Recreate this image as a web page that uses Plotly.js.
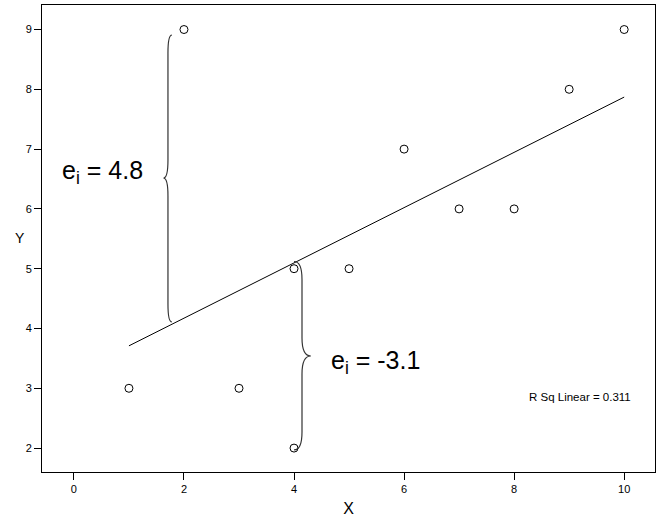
<!DOCTYPE html>
<html>
<head>
<meta charset="utf-8">
<script src="https://cdn.plot.ly/plotly-3.0.1.min.js"></script>
<style>html,body{margin:0;padding:0;background:#fff;}#chart{width:671px;height:525px;}</style>
</head>
<body>
<div id="chart"></div>
<script>
// Observed data points
const xValues = [1, 2, 3, 4, 4, 5, 6, 7, 8, 9, 10];
const yValues = [3, 9, 3, 5, 2, 5, 7, 6, 6, 8, 9];
const fitX = [1, 10];
const fitY = [3.71, 7.87];
// Tick labels
const xTicks = [0, 2, 4, 6, 8, 10];
const yTicks = [2, 3, 4, 5, 6, 7, 8, 9];
// Annotation texts
const residualLabels = ["e<sub>i</sub> = 4.8", "e<sub>i</sub> = -3.1"];
const rsqLabel = "R Sq Linear = 0.311";

function brace(x0, ytop, ybot, ymid, dx, dt, r) {
  return "M " + (x0 + dx) + "," + ytop +
    " Q " + x0 + "," + ytop + " " + x0 + "," + (ytop - r) +
    " L " + x0 + "," + (ymid + r) +
    " Q " + x0 + "," + ymid + " " + (x0 + dt) + "," + ymid +
    " Q " + x0 + "," + ymid + " " + x0 + "," + (ymid - r) +
    " L " + x0 + "," + (ybot + r) +
    " Q " + x0 + "," + ybot + " " + (x0 + dx) + "," + ybot;
}

const font = "Arial, 'Liberation Sans', sans-serif";

const traces = [
  {
    x: fitX, y: fitY, mode: "lines", type: "scatter",
    line: {color: "#000", width: 1}, hoverinfo: "skip", showlegend: false
  },
  {
    x: xValues, y: yValues, mode: "markers", type: "scatter",
    marker: {symbol: "circle-open", size: 8, color: "#000", line: {width: 1, color: "#000"}},
    showlegend: false
  }
];

const pw = 671 - 42 - 16, ph = 525 - 5 - 53;
function px(x) { return (x - 42) / pw; }
function py(y) { return (472 - y) / ph; }

const layout = {
  width: 671, height: 525,
  margin: {l: 42, r: 16, t: 5, b: 53},
  paper_bgcolor: "#fff", plot_bgcolor: "#fff",
  showlegend: false,
  font: {family: font, size: 11, color: "#000"},
  xaxis: {
    range: [-0.58, 10.56], tickvals: xTicks, ticktext: xTicks.map(String),
    showgrid: false, zeroline: false, showline: true, mirror: true,
    linecolor: "#000", linewidth: 1, ticks: "outside", ticklen: 7, tickcolor: "#000",
    tickfont: {family: font, size: 11},
    title: {text: "X", font: {family: font, size: 16}, standoff: 8}
  },
  yaxis: {
    range: [1.6, 9.41], tickvals: yTicks, ticktext: yTicks.map(String),
    showgrid: false, zeroline: false, showline: true, mirror: true,
    linecolor: "#000", linewidth: 1, ticks: "outside", ticklen: 7, tickcolor: "#000",
    tickfont: {family: font, size: 11}
  },
  shapes: [
    {type: "path", xref: "x", yref: "y",
     path: brace(1.709, 8.905, 4.11, 6.516, 0.07, -0.08, 0.3),
     line: {color: "#333", width: 1.2}},
    {type: "path", xref: "x", yref: "y",
     path: brace(4.145, 5.12, 1.97, 3.54, -0.145, 0.16, 0.3),
     line: {color: "#333", width: 1.2}}
  ],
  annotations: [
    {text: "Y", x: px(20), y: py(238), xref: "paper", yref: "paper", showarrow: false,
     font: {family: font, size: 14}, xanchor: "center", yanchor: "middle"},
    {text: residualLabels[0], x: px(60), y: py(172), xref: "paper", yref: "paper", showarrow: false,
     font: {family: font, size: 25}, xanchor: "left", yanchor: "middle"},
    {text: residualLabels[1], x: px(329), y: py(362), xref: "paper", yref: "paper", showarrow: false,
     font: {family: font, size: 25}, xanchor: "left", yanchor: "middle"},
    {text: rsqLabel, x: px(527), y: py(397), xref: "paper", yref: "paper", showarrow: false,
     font: {family: font, size: 11.5}, xanchor: "left", yanchor: "middle"}
  ]
};

Plotly.newPlot("chart", traces, layout, {displayModeBar: false, staticPlot: true});
</script>
</body>
</html>
